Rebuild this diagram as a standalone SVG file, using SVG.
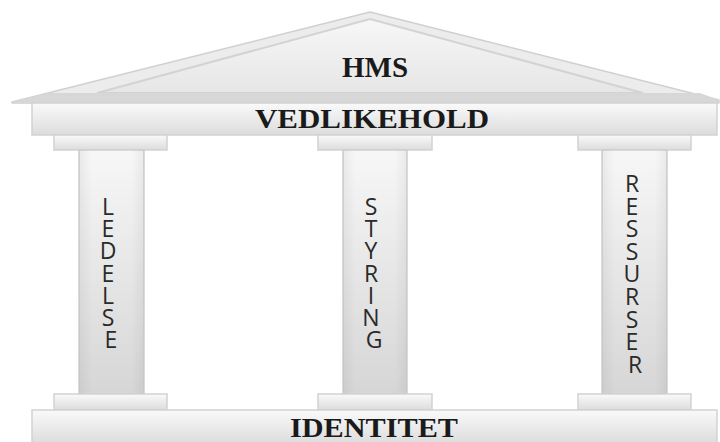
<svg xmlns="http://www.w3.org/2000/svg" width="720" height="442" viewBox="0 0 720 442">
  <defs>
    <linearGradient id="band" x1="0" y1="0" x2="0" y2="1">
      <stop offset="0" stop-color="#fafafa"/>
      <stop offset="1" stop-color="#dcdcdc"/>
    </linearGradient>
    <linearGradient id="shaft" x1="0" y1="0" x2="0" y2="1">
      <stop offset="0" stop-color="#f7f7f7"/>
      <stop offset="1" stop-color="#d6d6d6"/>
    </linearGradient>
    <linearGradient id="shaftSide" x1="0" y1="0" x2="1" y2="0">
      <stop offset="0" stop-color="#000" stop-opacity="0.05"/>
      <stop offset="0.2" stop-color="#000" stop-opacity="0"/>
      <stop offset="0.8" stop-color="#000" stop-opacity="0"/>
      <stop offset="1" stop-color="#000" stop-opacity="0.05"/>
    </linearGradient>
    <linearGradient id="pediment" x1="0" y1="0" x2="0" y2="1">
      <stop offset="0" stop-color="#f7f7f7"/>
      <stop offset="1" stop-color="#e6e6e6"/>
    </linearGradient>
  </defs>
  <style>
    .block { fill: url(#band); stroke: #d2d2d2; stroke-width: 1.5; }
    .shaft { fill: url(#shaft); stroke: #d0d0d0; stroke-width: 1.5; }
    .side { fill: url(#shaftSide); }
    .title { font-family: "Liberation Serif", "Times New Roman", serif; font-weight: bold; fill: #1a1a1a; text-anchor: middle; }
    .pillar { font-family: "Open Sans", "Noto Sans", sans-serif; font-size: 23px; fill: #2a2a2a; text-anchor: middle; }
  </style>

  <rect width="720" height="442" fill="#ffffff"/>

  <!-- roof -->
  <g id="roof">
    <polygon points="12,102 370,12 719,100 719,103 12,103" fill="#ececec" stroke="#d0d0d0" stroke-width="1.5" stroke-linejoin="round"/>
    <polygon points="97,93 370,19 643,93" fill="url(#pediment)" stroke="#d3d3d3" stroke-width="2"/>
    <polygon points="48,93 700,93 719,100 719,103 12,103 12,102" fill="#d7d7d7"/>
    <text class="title" x="375" y="77" font-size="29">HMS</text>
  </g>

  <!-- entablature -->
  <g id="vedlikehold">
    <rect class="block" x="32" y="103" width="685" height="32"/>
    <text class="title" x="372" y="128" font-size="27" textLength="234" lengthAdjust="spacingAndGlyphs">VEDLIKEHOLD</text>
  </g>

  <!-- left pillar -->
  <g id="ledelse">
    <rect class="block" x="54" y="135" width="113" height="15"/>
    <rect class="shaft" x="79" y="150" width="65" height="244"/>
    <rect class="side" x="79" y="150" width="65" height="244"/>
    <rect class="block" x="54" y="394" width="113" height="16"/>
    <text class="pillar" x="111">
      <tspan x="111" y="215">L</tspan>
      <tspan x="111" y="237.2">E</tspan>
      <tspan x="111" y="259.4">D</tspan>
      <tspan x="111" y="281.6">E</tspan>
      <tspan x="111" y="303.8">L</tspan>
      <tspan x="111" y="326">S</tspan>
      <tspan x="111" y="348.2">E</tspan>
    </text>
  </g>

  <!-- middle pillar -->
  <g id="styring">
    <rect class="block" x="318" y="135" width="114" height="15"/>
    <rect class="shaft" x="343" y="150" width="64" height="244"/>
    <rect class="side" x="343" y="150" width="64" height="244"/>
    <rect class="block" x="318" y="394" width="114" height="16"/>
    <text class="pillar" x="374">
      <tspan x="374" y="215">S</tspan>
      <tspan x="374" y="237.2">T</tspan>
      <tspan x="374" y="259.4">Y</tspan>
      <tspan x="374" y="281.6">R</tspan>
      <tspan x="374" y="303.8">I</tspan>
      <tspan x="374" y="326">N</tspan>
      <tspan x="374" y="348.2">G</tspan>
    </text>
  </g>

  <!-- right pillar -->
  <g id="ressurser">
    <rect class="block" x="578" y="135" width="113" height="15"/>
    <rect class="shaft" x="602" y="150" width="65" height="244"/>
    <rect class="side" x="602" y="150" width="65" height="244"/>
    <rect class="block" x="578" y="394" width="113" height="16"/>
    <text class="pillar" x="635">
      <tspan x="635" y="192">R</tspan>
      <tspan x="635" y="214.6">E</tspan>
      <tspan x="635" y="237.2">S</tspan>
      <tspan x="635" y="259.8">S</tspan>
      <tspan x="635" y="282.4">U</tspan>
      <tspan x="635" y="305">R</tspan>
      <tspan x="635" y="327.6">S</tspan>
      <tspan x="635" y="350.2">E</tspan>
      <tspan x="635" y="372.8">R</tspan>
    </text>
  </g>

  <!-- foundation -->
  <g id="identitet">
    <rect class="block" x="32" y="410" width="685" height="34"/>
    <text class="title" x="374" y="437" font-size="27" textLength="168" lengthAdjust="spacingAndGlyphs">IDENTITET</text>
  </g>

  <g id="connectors"/>
</svg>
